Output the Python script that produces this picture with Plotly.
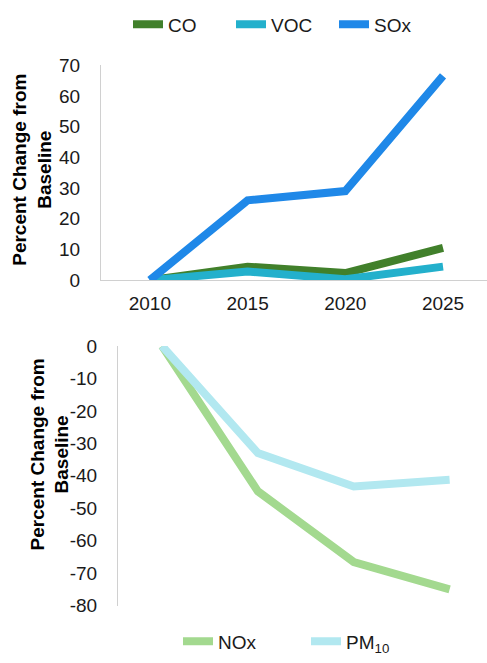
import plotly.graph_objects as go

# Scenario years
years = ["2010", "2015", "2020", "2025"]

# Percent change from baseline — pollutants that rise
co = [0, 4.4, 2.3, 10.5]
voc = [0, 2.8, 0.3, 4.4]
sox = [0, 26, 29, 66.5]

# Percent change from baseline — pollutants that fall
nox = [0, -44.8, -66.6, -75]
pm10 = [0, -33, -43.3, -41.2]

top_ticks = [0, 10, 20, 30, 40, 50, 60, 70]
bottom_ticks = [0, -10, -20, -30, -40, -50, -60, -70, -80]
# plain hyphen-minus labels for the negative scale
bottom_ticktext = [str(v) for v in bottom_ticks]

FONT = "Liberation Sans, Arial, sans-serif"
FS = 19
W, H = 487, 663

fig = go.Figure()

top_series = [
    ("CO", co, "#41802B"),
    ("VOC", voc, "#23B0CC"),
    ("SOx", sox, "#1F88E8"),
]
for name, vals, col in top_series:
    fig.add_trace(go.Scatter(
        x=years, y=vals, name=name, mode="lines",
        line=dict(color=col, width=8),
        xaxis="x", yaxis="y", legend="legend",
    ))

bottom_series = [
    ("NOx", nox, "#A3D98F"),
    ("PM<sub>10</sub>", pm10, "#B2E8F0"),
]
for name, vals, col in bottom_series:
    fig.add_trace(go.Scatter(
        x=years, y=vals, name=name, mode="lines",
        line=dict(color=col, width=8),
        xaxis="x2", yaxis="y2", legend="legend2",
    ))

def py(px):
    return 1 - px / H

axis_font = dict(family=FONT, size=FS, color="#1a1a1a")

fig.update_layout(
    width=W, height=H,
    margin=dict(l=0, r=0, t=0, b=0),
    paper_bgcolor="white", plot_bgcolor="white",
    font=dict(family=FONT, size=FS, color="#1a1a1a"),
    xaxis=dict(
        domain=[101 / W, 1], anchor="y", type="category",
        range=[-0.5, 3.45], showgrid=False, zeroline=False,
        showline=True, linecolor="#d0d0d0", linewidth=1,
        ticks="", tickfont=axis_font, ticklabelstandoff=6,
    ),
    yaxis=dict(
        domain=[py(279), py(57)], anchor="x", range=[0, 70],
        tickvals=top_ticks, showgrid=False, zeroline=False,
        showline=True, linecolor="#d0d0d0", linewidth=1,
        ticks="", tickfont=axis_font, ticklabelstandoff=16,
    ),
    xaxis2=dict(
        domain=[118 / W, 1], anchor="y2", type="category",
        range=[-0.46, 3.39], showgrid=False, zeroline=False,
        showline=False, showticklabels=False, ticks="",
    ),
    yaxis2=dict(
        domain=[py(615), py(347)], anchor="x2", range=[-80, 0],
        tickvals=bottom_ticks, ticktext=bottom_ticktext,
        showgrid=False, zeroline=False,
        showline=True, linecolor="#d0d0d0", linewidth=1,
        ticks="", tickfont=axis_font, ticklabelstandoff=16,
    ),
    legend=dict(
        orientation="h", x=128 / W, xanchor="left", y=py(15), yanchor="middle",
        font=dict(family=FONT, size=FS, color="#1a1a1a"),
        bgcolor="rgba(0,0,0,0)", entrywidth=58, entrywidthmode="pixels",
        traceorder="normal",
    ),
    legend2=dict(
        orientation="h", x=178 / W, xanchor="left", y=py(652), yanchor="middle",
        font=dict(family=FONT, size=FS, color="#1a1a1a"),
        bgcolor="rgba(0,0,0,0)", entrywidth=83, entrywidthmode="pixels",
        traceorder="normal",
    ),
    showlegend=True,
)

title_text = "Percent Change from<br>Baseline"
for cx, cy in [(32, 165), (50, 459)]:
    fig.add_annotation(
        text=title_text, textangle=-90, showarrow=False,
        xref="paper", yref="paper", x=cx / W, y=py(cy),
        xanchor="center", yanchor="middle",
        font=dict(family=FONT, size=FS, color="#000000", weight="bold"),
    )

fig.write_html("out.html")
